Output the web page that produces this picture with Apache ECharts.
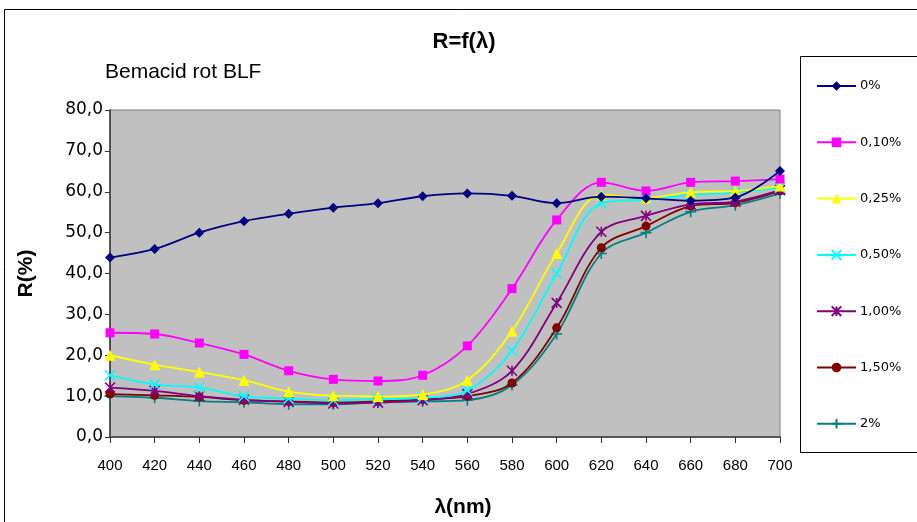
<!DOCTYPE html>
<html>
<head>
<meta charset="utf-8">
<script src="https://cdn.jsdelivr.net/npm/echarts@6/dist/echarts.min.js"></script>
<style>
html,body{margin:0;padding:0;background:#fff;}
#chart{width:917px;height:522px;}
</style>
</head>
<body>
<div id="chart"></div>
<script>
const wavelengths = [400,420,440,460,480,500,520,540,560,580,600,620,640,660,680,700];
const seriesNames = ['0%','0,10%','0,25%','0,50%','1,00%','1,50%','2%'];
const s0   = [43.9,46.0,50.0,52.8,54.6,56.1,57.2,58.9,59.6,59.0,57.2,58.8,58.4,57.8,58.6,65.1];
const s010 = [25.5,25.2,23.0,20.2,16.2,14.1,13.7,15.1,22.3,36.3,53.1,62.3,60.2,62.3,62.6,63.1];
const s025 = [20.0,17.7,15.9,13.9,11.1,10.1,9.9,10.4,13.9,25.9,44.9,59.2,58.5,59.9,60.2,61.4];
const s050 = [15.1,12.9,12.1,10.0,9.4,9.0,9.3,9.6,11.4,21.1,40.0,57.2,58.1,59.2,59.8,61.0];
const s100 = [12.1,11.3,10.0,9.1,8.6,8.2,8.4,9.0,10.5,16.2,32.8,50.2,54.1,56.9,57.6,60.4];
const s150 = [10.5,10.2,9.8,9.0,8.7,8.4,8.7,9.2,10.0,13.2,26.7,46.3,51.6,56.5,57.3,60.2];
const s200 = [10.0,9.6,8.8,8.5,8.0,8.0,8.5,8.7,9.0,12.7,25.2,44.9,50.0,55.1,56.7,59.6];
const allValues = [s0,s010,s025,s050,s100,s150,s200];
const yTicks = [0,10,20,30,40,50,60,70,80];

const colors = ['#000080','#ff00ff','#ffff00','#00ffff','#800080','#800000','#008080'];
const symbols = ['diamond','rect','triangle',
  'path://M0,0L10,10M10,0L0,10',
  'path://M0,0L10,10M10,0L0,10M5,0L5,10',
  'circle',
  'path://M5,0L5,10M0,5L10,5'];
const symSizes = [10,9,11,10,10,9,11];
const isPath = [false,false,false,true,true,false,true];

const FONT = '"Liberation Sans", Arial, sans-serif';
const chart = echarts.init(document.getElementById('chart'));
const series = seriesNames.map((name,i)=>({
  name: name,
  type: 'line',
  smooth: 0.35,
  data: wavelengths.map((w,j)=>[w, allValues[i][j]]),
  symbol: symbols[i],
  symbolSize: symSizes[i],
  showAllSymbol: true,
  lineStyle: {color: colors[i], width: 1.8},
  itemStyle: {color: colors[i], borderColor: colors[i], borderWidth: isPath[i] ? 1.6 : 0},
  emphasis: {disabled: true},
  z: 10 - i
}));

chart.setOption({
  animation: false,
  backgroundColor: '#ffffff',
  graphic: [
    {type:'rect', shape:{x:4.5,y:9.5,width:950,height:600}, style:{fill:'none',stroke:'#000',lineWidth:1}, z:-10},
    {type:'rect', shape:{x:800.5,y:56.5,width:130,height:396}, style:{fill:'#fff',stroke:'#000',lineWidth:1}, z:-5},
    {type:'text', left:105, top:62, style:{text:'Bemacid rot BLF', font:'21px "Liberation Sans", Arial, sans-serif', fill:'#000'}},
    {type:'text', x:464, y:42, style:{text:'R=f(λ)', font:'bold 22px "Liberation Sans", Arial, sans-serif', fill:'#000', textAlign:'center', textVerticalAlign:'middle'}},
    {type:'text', x:463, y:507, style:{text:'λ(nm)', font:'bold 21px "Liberation Sans", Arial, sans-serif', fill:'#000', textAlign:'center', textVerticalAlign:'middle'}}
  ],
  legend: {
    orient: 'vertical',
    left: 811, top: 74.5,
    itemWidth: 39, itemHeight: 12,
    itemGap: 43.3,
    textStyle: {fontFamily:'"DejaVu Sans", sans-serif', fontSize: 13, color:'#000', padding:[0,0,0,-1]},
    data: seriesNames
  },
  grid: {left:110, right:137, top:110, bottom:85, show:true, backgroundColor:'#c0c0c0', borderColor:'#808080', borderWidth:1},
  xAxis: {
    type: 'value', min: 400, max: 700, interval: 20,
    axisLine: {show:true, onZero:false, lineStyle:{color:'#555', width:2}},
    axisTick: {show:true, length:6, lineStyle:{color:'#333'}},
    axisLabel: {fontFamily:'"Liberation Sans Narrow", "Liberation Sans", Arial, sans-serif', fontSize:15, color:'#000', margin:21},
    splitLine: {show:false}
  },
  yAxis: {
    type: 'value', min: 0, max: 80, interval: 10,
    name: 'R(%)', nameLocation: 'middle', nameGap: 73, nameRotate: 90,
    nameTextStyle: {fontFamily:FONT, fontWeight:'bold', fontSize:21, color:'#000'},
    axisLine: {show:true, lineStyle:{color:'#333', width:1.5}},
    axisTick: {show:true, length:5, lineStyle:{color:'#333'}},
    axisLabel: {fontFamily:'"DejaVu Sans", sans-serif', fontSize:17, color:'#000', margin:7,
      formatter: v => yTicks.includes(v) ? v.toFixed(1).replace('.', ',') : ''},
    splitLine: {show:false}
  },
  series: series
});
</script>
</body>
</html>
